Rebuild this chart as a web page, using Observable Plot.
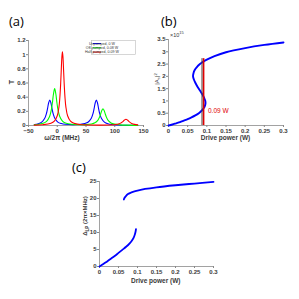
<!DOCTYPE html>
<html>
<head>
<meta charset="utf-8">
<script src="https://cdn.jsdelivr.net/npm/d3@7"></script>
<script src="https://cdn.jsdelivr.net/npm/@observablehq/plot@0.6"></script>
<style>
  html, body { margin: 0; padding: 0; background: #fff; }
  #root { position: relative; width: 299px; height: 299px; overflow: hidden; font-family: "Liberation Sans", Arial, sans-serif; }
  .panel { position: absolute; }
  .plabel { position: absolute; font-family: "Open Sans", sans-serif; font-size: 13px; line-height: 13px; color: #000; }
</style>
</head>
<body>
<div id="root"></div>
<script>
// ---------- Panel (a): transmission spectra ----------
const seriesNames = ["Unpumped, 0 W", "Off-pumped, 0.08 W", "Half-pumped, 0.09 W"];
const seriesColors = ["#0000ff", "#00ff00", "#ff0000"];

const blueX = [-40,-33,-27,-22,-19,-17,-15,-13,-11,-9,-7,-4,1,7,14,27,41,48,54,59,62,64,66,68,70,72,74,77,82,88,95,105,120,140];
const blueT = [0.014,0.025,0.048,0.098,0.164,0.235,0.318,0.36,0.318,0.235,0.164,0.098,0.048,0.028,0.018,0.013,0.018,0.028,0.05,0.098,0.164,0.235,0.318,0.36,0.318,0.235,0.164,0.098,0.048,0.025,0.014,0.008,0.004,0.002];

const greenX = [-40,-34.5,-24.5,-18.5,-13.5,-10.5,-8.5,-6.5,-4.5,-2.5,-0.5,1.5,4.5,9.5,15.5,25.5,40,49.5,59.5,65.5,70.5,73.5,75.5,77.5,79.5,81.5,83.5,85.5,88.5,93.5,99.5,109.5,120,140];
const greenT = [0.010,0.014,0.031,0.059,0.123,0.213,0.317,0.448,0.52,0.448,0.317,0.213,0.123,0.059,0.031,0.017,0.012,0.013,0.022,0.038,0.072,0.118,0.163,0.212,0.235,0.212,0.163,0.118,0.072,0.036,0.019,0.009,0.005,0.002];

const redX = [-40,-25,-11,-5,0,3,4.5,6,7,8,9,10,11,12,13.5,15,18,23,29,39,55,75,90,98.5,104.5,109.5,113.5,116.5,119.5,122.5,125.5,129.5,134.5,140];
const redT = [0.005,0.011,0.031,0.061,0.137,0.264,0.392,0.6,0.784,0.961,1.04,0.961,0.784,0.6,0.392,0.264,0.137,0.061,0.031,0.014,0.007,0.005,0.007,0.010,0.018,0.030,0.051,0.074,0.089,0.074,0.051,0.029,0.016,0.009];

const aXTicks = [-50, 0, 50, 100, 150];
const aYTicks = [0, 0.2, 0.4, 0.6, 0.8, 1, 1.2];

// ---------- Panel (b): bistability S-curve ----------
const bPower = [0,0.01,0.02,0.03,0.04,0.05,0.06,0.07,0.08,0.087,0.092,0.095,0.0965,0.096,0.093,0.089,0.083,0.076,0.07,0.066,0.064,0.065,0.068,0.074,0.082,0.09,0.1,0.12,0.15,0.2,0.25,0.3];
const bAmp   = [0,0.04,0.09,0.14,0.2,0.26,0.33,0.41,0.51,0.61,0.71,0.8,0.9,1.0,1.12,1.25,1.4,1.57,1.74,1.88,2.0,2.12,2.25,2.38,2.5,2.59,2.68,2.82,2.98,3.15,3.28,3.38]; // ×10^15
const bMarkPower = [0.09];
const bMarkTop = 2.72;
const bMarkLabel = "0.09 W";
const bXTicks = [0, 0.05, 0.1, 0.15, 0.2, 0.25, 0.3];
const bYTicks = [0, 0.5, 1, 1.5, 2, 2.5, 3, 3.5];

// ---------- Panel (c): detuning branches ----------
const cLowP = [0,0.01,0.02,0.03,0.04,0.05,0.06,0.07,0.08,0.085,0.09,0.093,0.095,0.096];
const cLowD = [0,0.7,1.5,2.3,3.1,4.0,4.9,5.8,6.9,7.6,8.5,9.4,10.3,11.0];
const cUpP = [0.064,0.066,0.07,0.075,0.08,0.09,0.1,0.12,0.15,0.2,0.25,0.3];
const cUpD = [19.7,20.2,20.8,21.3,21.6,22.0,22.3,22.8,23.3,23.9,24.4,24.9];
const cXTicks = [0, 0.05, 0.1, 0.15, 0.2, 0.25, 0.3];
const cYTicks = [0, 5, 10, 15, 20, 25];

// ---------- helpers ----------
const fmt = d3.format("~g");
const tickStyle = {fontSize: 6, fontWeight: "bold", fill: "#3a3a3a", tickSize: 2, tickPadding: 1, stroke: "#888"};
const axisGray = "#8a8a8a";

function place(node, left, top) {
  node.classList.add("panel");
  node.style.left = left + "px";
  node.style.top = top + "px";
  document.getElementById("root").appendChild(node);
}
function panelLabel(text, left, top) {
  const d = document.createElement("div");
  d.className = "plabel";
  d.textContent = text;
  d.style.left = left + "px";
  d.style.top = top + "px";
  document.getElementById("root").appendChild(d);
}
function addText(svg, x, y, text, opts = {}) {
  const t = d3.select(svg).append("text")
    .attr("x", x).attr("y", y)
    .attr("text-anchor", opts.anchor || "middle")
    .attr("font-family", "Liberation Sans, Arial, sans-serif")
    .attr("font-size", opts.size || 7)
    .attr("font-weight", opts.weight || "bold")
    .attr("fill", opts.fill || "#3a3a3a");
  if (text) t.text(text);
  if (opts.rotate) t.attr("transform", `rotate(${opts.rotate},${x},${y})`);
  return t;
}

// ---------- Panel (a) ----------
const aData = [];
[[blueX, blueT], [greenX, greenT], [redX, redT]].forEach(([xs, ys], i) => {
  xs.forEach((x, j) => aData.push({s: seriesNames[i], x, y: ys[j]}));
});
const plotA = Plot.plot({
  width: 150, height: 150,
  marginLeft: 28, marginRight: 7, marginTop: 40, marginBottom: 25,
  style: {background: "transparent", fontFamily: "Liberation Sans, Arial, sans-serif"},
  x: {domain: [-50, 150]},
  y: {domain: [0, 1.2]},
  color: {domain: seriesNames, range: seriesColors},
  marks: [
    Plot.ruleX([-50], {stroke: axisGray, strokeWidth: 0.8}),
    Plot.ruleY([0], {stroke: axisGray, strokeWidth: 0.8}),
    Plot.axisX({ticks: aXTicks, tickFormat: fmt, label: null, ...tickStyle}),
    Plot.axisY({ticks: aYTicks, tickFormat: fmt, label: null, ...tickStyle}),
    Plot.line(aData, {x: "x", y: "y", z: "s", stroke: "s", strokeWidth: 1.1, curve: "catmull-rom"})
  ]
});
place(plotA, 0, 0);
{
  const svgA = plotA.tagName.toLowerCase() === "svg" ? plotA : plotA.querySelector("svg");
  addText(svgA, 62, 139.5, "ω/2π (MHz)", {size: 6.5});
  addText(svgA, 14, 82, "T", {size: 7, rotate: -90});
  // legend
  const g = d3.select(svgA).append("g");
  g.append("rect").attr("x", 91.5).attr("y", 40.5).attr("width", 44).attr("height", 14)
    .attr("fill", "#fff").attr("stroke", "#bbb").attr("stroke-width", 0.6);
  seriesNames.forEach((name, i) => {
    const yy = 43.5 + i * 4.3;
    g.append("line").attr("x1", 93).attr("x2", 101).attr("y1", yy).attr("y2", yy)
      .attr("stroke", seriesColors[i]).attr("stroke-width", 1);
    g.append("text").attr("x", 102).attr("y", yy + 1.3).attr("font-size", 3.6)
      .attr("font-family", "Liberation Sans, Arial, sans-serif").attr("fill", "#333").text(name);
  });
}
panelLabel("(a)", 9, 15);

// ---------- Panel (b) ----------
const bData = bPower.map((p, i) => ({p, a: bAmp[i]}));
const plotB = Plot.plot({
  width: 149, height: 150,
  marginLeft: 18, marginRight: 16, marginTop: 39, marginBottom: 25,
  style: {background: "transparent", fontFamily: "Liberation Sans, Arial, sans-serif"},
  x: {domain: [0, 0.3]},
  y: {domain: [0, 3.5]},
  marks: [
    Plot.ruleX([0], {stroke: axisGray, strokeWidth: 0.8}),
    Plot.ruleY([0], {stroke: axisGray, strokeWidth: 0.8}),
    Plot.axisX({ticks: bXTicks, tickFormat: fmt, label: null, ...tickStyle}),
    Plot.axisY({ticks: bYTicks, tickFormat: fmt, label: null, ...tickStyle}),
    Plot.line(bData, {x: "p", y: "a", stroke: "#0000ff", strokeWidth: 1.9, curve: "catmull-rom"}),
    Plot.ruleX(bMarkPower, {y1: 0, y2: bMarkTop, stroke: "#444", strokeWidth: 1, dx: -1}),
    Plot.ruleX(bMarkPower, {y1: 0, y2: bMarkTop, stroke: "#e00000", strokeWidth: 1.6, dx: 0.6}),
    Plot.text(bMarkPower, {x: d => d, y: 0.6, text: () => bMarkLabel, fill: "#e00000", fontSize: 6.5, textAnchor: "start", dx: 5})
  ]
});
place(plotB, 150, 0);
{
  const svgB = plotB.tagName.toLowerCase() === "svg" ? plotB : plotB.querySelector("svg");
  addText(svgB, 75.5, 139.5, "Drive power (W)", {size: 6.5});
  const yl = addText(svgB, 8.5, 79, "", {size: 6, rotate: -90, weight: "normal"});
  yl.append("tspan").text("|A");
  yl.append("tspan").attr("font-size", 4).attr("dy", 1.5).text("s");
  yl.append("tspan").attr("dy", -1.5).text("|");
  yl.append("tspan").attr("font-size", 4).attr("dy", -2).text("2");
  const ex = addText(svgB, 20, 36.5, "", {size: 5.5, weight: "normal", anchor: "start"});
  ex.append("tspan").text("×10");
  ex.append("tspan").attr("font-size", 4).attr("dy", -2.5).text("15");
}
panelLabel("(b)", 161, 15);

// ---------- Panel (c) ----------
const cData = [
  ...cLowP.map((p, i) => ({b: "low", p, d: cLowD[i]})),
  ...cUpP.map((p, i) => ({b: "up", p, d: cUpD[i]}))
];
const plotC = Plot.plot({
  width: 180, height: 149,
  marginLeft: 39, marginRight: 27, marginTop: 31, marginBottom: 33,
  style: {background: "transparent", fontFamily: "Liberation Sans, Arial, sans-serif"},
  x: {domain: [0, 0.3]},
  y: {domain: [0, 25]},
  marks: [
    Plot.ruleX([0], {stroke: axisGray, strokeWidth: 0.8}),
    Plot.ruleY([0], {stroke: axisGray, strokeWidth: 0.8}),
    Plot.axisX({ticks: cXTicks, tickFormat: fmt, label: null, ...tickStyle}),
    Plot.axisY({ticks: cYTicks, tickFormat: fmt, label: null, ...tickStyle}),
    Plot.line(cData, {x: "p", y: "d", z: "b", stroke: "#0000ff", strokeWidth: 1.8, curve: "catmull-rom"})
  ]
});
place(plotC, 60, 150);
{
  const svgC = plotC.tagName.toLowerCase() === "svg" ? plotC : plotC.querySelector("svg");
  addText(svgC, 95.8, 132.5, "Drive power (W)", {size: 6.5});
  const yl = addText(svgC, 27, 66, "", {size: 6, rotate: -90});
  yl.append("tspan").text("Δ");
  yl.append("tspan").attr("font-size", 4.5).attr("dy", 1.5).text("LP");
  yl.append("tspan").attr("dy", -1.5).text(" (2π×MHz)");
}
panelLabel("(c)", 72, 161);
</script>
</body>
</html>
